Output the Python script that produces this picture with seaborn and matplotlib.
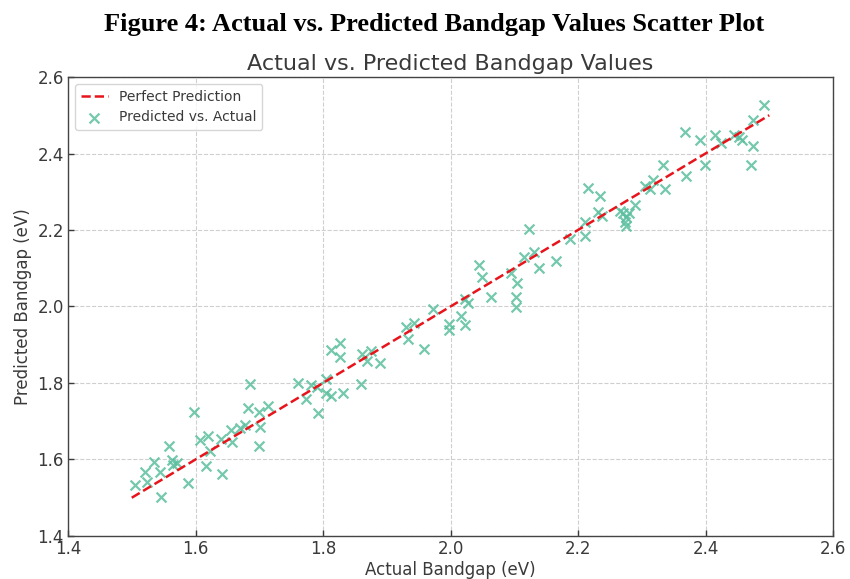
"""Actual vs. predicted bandgap scatter plot."""
import matplotlib
matplotlib.use("Agg")
import matplotlib.pyplot as plt
import pandas as pd
import seaborn as sns

actual = [
    1.505, 1.521, 1.524, 1.535, 1.544, 1.546, 1.559, 1.563, 1.565, 1.571,
    1.589, 1.598, 1.607, 1.620, 1.616, 1.623, 1.640, 1.641, 1.656, 1.657,
    1.670, 1.678, 1.683, 1.686, 1.699, 1.701, 1.700, 1.713, 1.760, 1.773,
    1.781, 1.790, 1.792, 1.804, 1.812, 1.805, 1.812, 1.827, 1.827, 1.832,
    1.859, 1.861, 1.869, 1.876, 1.890, 1.930, 1.934, 1.942, 1.958, 1.973,
    1.997, 1.997, 2.017, 2.023, 2.023, 2.028, 2.044, 2.050, 2.064, 2.095,
    2.104, 2.102, 2.102, 2.123, 2.115, 2.131, 2.139, 2.165, 2.187, 2.211,
    2.211, 2.216, 2.234, 2.232, 2.238, 2.266, 2.271, 2.275, 2.274, 2.276,
    2.280, 2.289, 2.305, 2.313, 2.318, 2.337, 2.333, 2.370, 2.399, 2.471,
    2.368, 2.391, 2.415, 2.425, 2.444, 2.452, 2.457, 2.475, 2.475, 2.491,
]
predicted = [
    1.533, 1.568, 1.542, 1.594, 1.568, 1.503, 1.634, 1.599, 1.586, 1.590,
    1.538, 1.723, 1.651, 1.661, 1.583, 1.623, 1.653, 1.562, 1.677, 1.647,
    1.682, 1.689, 1.734, 1.797, 1.723, 1.684, 1.635, 1.740, 1.801, 1.757,
    1.795, 1.790, 1.721, 1.773, 1.767, 1.810, 1.886, 1.905, 1.867, 1.773,
    1.797, 1.876, 1.857, 1.884, 1.851, 1.946, 1.914, 1.958, 1.888, 1.993,
    1.954, 1.939, 1.975, 1.951, 2.019, 2.010, 2.108, 2.076, 2.026, 2.087,
    2.062, 2.024, 1.999, 2.203, 2.129, 2.143, 2.100, 2.119, 2.176, 2.185,
    2.222, 2.309, 2.289, 2.248, 2.237, 2.250, 2.244, 2.235, 2.222, 2.210,
    2.245, 2.265, 2.315, 2.306, 2.332, 2.306, 2.370, 2.341, 2.370, 2.370,
    2.457, 2.435, 2.448, 2.427, 2.448, 2.444, 2.435, 2.420, 2.488, 2.527,
]
perfect = [1.5, 2.5]
ticks = [1.4, 1.6, 1.8, 2.0, 2.2, 2.4, 2.6]

df = pd.DataFrame({"actual": actual, "predicted": predicted})
line_df = pd.DataFrame({"x": perfect, "y": perfect})

sns.set_style("white")
plt.rcParams["font.family"] = ["DejaVu Sans"]
text_c = "#3a3a3a"

fig = plt.figure(figsize=(8.5, 5.79), dpi=100)
ax = fig.add_axes([0.08, 0.0743, 0.9, 0.7927])

sns.scatterplot(data=df, x="actual", y="predicted", marker="x", s=50,
                color="#5cbf9f", alpha=0.85, linewidth=1.6,
                label="Predicted vs. Actual", ax=ax, zorder=2)
sns.lineplot(data=line_df, x="x", y="y", color="#e8141c", linestyle="--",
             linewidth=1.8, label="Perfect Prediction", ax=ax, zorder=3)

ax.set_xlim(1.4, 2.6)
ax.set_ylim(1.4, 2.6)
ax.set_xticks(ticks)
ax.set_yticks(ticks)
ax.grid(True, linestyle="--", color="#cfcfcf", linewidth=0.8)
ax.tick_params(axis="both", labelsize=12, colors=text_c, length=4, width=1,
               direction="in", pad=3, bottom=True, left=True)
for sp in ax.spines.values():
    sp.set_color("#444444")
    sp.set_linewidth(1.0)

ax.set_xlabel("Actual Bandgap (eV)", fontsize=12, color=text_c, labelpad=2)
ax.set_ylabel("Predicted Bandgap (eV)", fontsize=12, color=text_c, labelpad=4)
ax.set_title("Actual vs. Predicted Bandgap Values", fontsize=16, color=text_c,
             pad=5)

handles, labels = ax.get_legend_handles_labels()
order = [labels.index("Perfect Prediction"), labels.index("Predicted vs. Actual")]
leg = ax.legend([handles[i] for i in order], [labels[i] for i in order],
                loc="upper left", fontsize=10, frameon=True)
for t in leg.get_texts():
    t.set_color(text_c)

fig.text(0.511, 0.957, "Figure 4: Actual vs. Predicted Bandgap Values Scatter Plot",
         ha="center", va="center", fontsize=19, fontweight="bold",
         family=["Liberation Serif", "DejaVu Serif"], color="black")

fig.savefig("out.png", dpi=100)
